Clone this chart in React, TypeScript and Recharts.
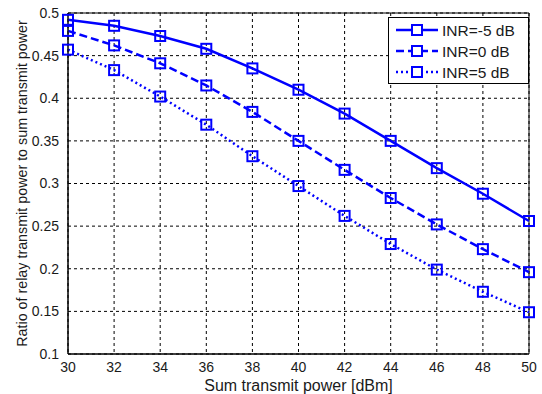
import { LineChart, Line, XAxis, YAxis, CartesianGrid, ReferenceArea } from 'recharts'

const power = [30, 32, 34, 36, 38, 40, 42, 44, 46, 48, 50]
const inrMinus5 = [0.492, 0.485, 0.473, 0.458, 0.435, 0.41, 0.382, 0.35, 0.318, 0.288, 0.256]
const inr0 = [0.479, 0.462, 0.441, 0.415, 0.384, 0.35, 0.316, 0.283, 0.252, 0.223, 0.196]
const inr5 = [0.457, 0.433, 0.402, 0.369, 0.332, 0.297, 0.262, 0.229, 0.199, 0.173, 0.149]

const xTicks = [30, 32, 34, 36, 38, 40, 42, 44, 46, 48, 50]
const yTicks = [0.1, 0.15, 0.2, 0.25, 0.3, 0.35, 0.4, 0.45, 0.5]

const seriesNames = ['INR=-5 dB', 'INR=0 dB', 'INR=5 dB']
const dashes = ['0', '8 4', '2 3']

const chartData = power.map((p, i) => ({
  p,
  a: inrMinus5[i],
  b: inr0[i],
  c: inr5[i],
}))

const BLUE = '#0000ff'
const INK = '#1a1a1a'
const FONT = '"Liberation Sans", Arial, sans-serif'

const squareDot = (props: any) => {
  const { cx, cy, index } = props
  if (cx == null || cy == null) return <g key={index} />
  return <rect key={index} x={cx - 5} y={cy - 5} width={10} height={10} fill="none" stroke={BLUE} strokeWidth={2} />
}

const LegendBox = () => (
  <div style={{ position: 'absolute', left: 388, top: 17, border: '1px solid #000', background: '#fff', width: 141, height: 67, boxSizing: 'border-box' }}>
    <svg width={139} height={65} style={{ display: 'block' }}>
      {seriesNames.map((name, i) => {
        const y = 12 + i * 21
        return (
          <g key={name}>
            <line x1={7} x2={49} y1={y} y2={y} stroke={BLUE} strokeWidth={2.5} strokeDasharray={dashes[i]} />
            <rect x={23} y={y - 5} width={10} height={10} fill="#fff" stroke={BLUE} strokeWidth={2} />
            <text x={53} y={y + 5.5} fontSize={15.5} fontFamily={FONT} fill={INK}>{name}</text>
          </g>
        )
      })}
    </svg>
  </div>
)

export default function App() {
  return (
    <div style={{ position: 'absolute', left: 0, top: 0, width: 542, height: 394, background: '#fff' }}>
      <LineChart width={542} height={394} data={chartData} margin={{ top: 13, right: 13, bottom: 0, left: 0 }} style={{ fontFamily: FONT }}>
        <CartesianGrid stroke="#000" strokeDasharray="3 3" horizontalValues={yTicks} verticalValues={xTicks} />
        <XAxis
          dataKey="p"
          type="number"
          domain={[30, 50]}
          ticks={xTicks}
          height={40}
          tickLine={false}
          axisLine={{ stroke: '#000' }}
          tick={{ fill: INK, fontSize: 14 }}
          tickMargin={2}
          label={{ value: 'Sum transmit power [dBm]', position: 'insideBottom', offset: 3, fill: INK, fontSize: 16 }}
        />
        <YAxis
          type="number"
          domain={[0.1, 0.5]}
          ticks={yTicks}
          width={68}
          tickLine={false}
          axisLine={{ stroke: '#000' }}
          tick={{ fill: INK, fontSize: 14 }}
          tickMargin={3}
          tickFormatter={(v: number) => String(v)}
          label={{ value: 'Ratio of relay transmit power to sum transmit power', angle: -90, position: 'center', dx: -12, fill: INK, fontSize: 14.3 }}
        />
        <ReferenceArea x1={30} x2={50} y1={0.1} y2={0.5} fill="none" stroke="#000" strokeWidth={1} />
        <Line type="linear" dataKey="a" name={seriesNames[0]} stroke={BLUE} strokeWidth={2.5} dot={squareDot} isAnimationActive={false} />
        <Line type="linear" dataKey="b" name={seriesNames[1]} stroke={BLUE} strokeWidth={2.5} strokeDasharray={dashes[1]} dot={squareDot} isAnimationActive={false} />
        <Line type="linear" dataKey="c" name={seriesNames[2]} stroke={BLUE} strokeWidth={2.5} strokeDasharray={dashes[2]} dot={squareDot} isAnimationActive={false} />
      </LineChart>
      <LegendBox />
    </div>
  )
}
